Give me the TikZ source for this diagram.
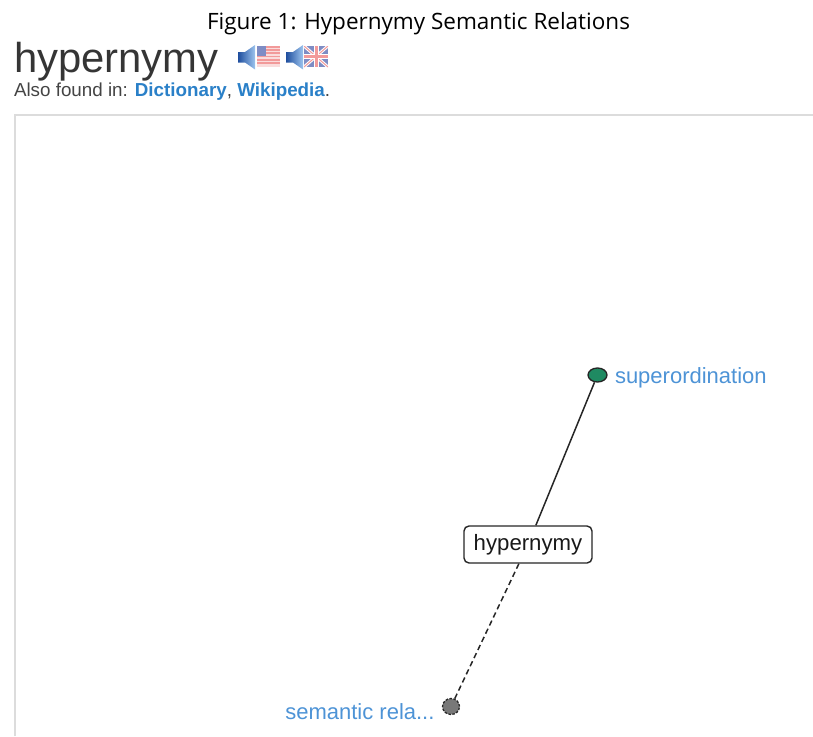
\documentclass[tikz,border=0pt]{standalone}
\usepackage{fontspec}
\setmainfont{Liberation Sans}
\newfontfamily\titlefont{Open Sans}
\usetikzlibrary{shapes.geometric}
\definecolor{headgray}{HTML}{353535}
\definecolor{textgray}{HTML}{444444}
\definecolor{linkblue}{HTML}{2A80C8}
\definecolor{labblue}{HTML}{4D93D6}
\definecolor{nodegreen}{HTML}{1F8A62}
\definecolor{nodegray}{HTML}{787878}
\definecolor{framegray}{HTML}{DCDCDC}
\definecolor{flagred}{HTML}{F29A9A}
\definecolor{flagblue}{HTML}{7E8CC4}
\definecolor{spkdark}{HTML}{1F4E9E}
\definecolor{spklight}{HTML}{9CC4EE}
\tikzset{
  txt/.style={inner sep=0pt, outer sep=0pt},
  lab/.style={txt, text=labblue, font=\fontsize{22}{26}\selectfont},
  supnode/.style={ellipse, draw=black!85, line width=1.3pt, fill=nodegreen, minimum width=19pt, minimum height=14pt, inner sep=0pt},
  semnode/.style={ellipse, draw=black!85, dashed, dash pattern=on 2.5pt off 1.5pt, line width=1.3pt, fill=nodegray, minimum width=17pt, minimum height=16pt, inner sep=0pt},
  wordbox/.style={draw=black!85, line width=1.4pt, rounded corners=5pt, fill=white, minimum width=128pt, minimum height=37pt, inner sep=0pt, text=black!90, font=\fontsize{22.2}{26}\selectfont},
  conn/.style={draw=black!85, line width=1.5pt},
  dashconn/.style={conn, dash pattern=on 5.5pt off 3.5pt},
  frameline/.style={draw=framegray, line width=2pt},
  spk/.style={left color=spkdark, right color=spklight, draw=none}
}
\begin{document}
\begin{tikzpicture}[x=1pt,y=-1pt]
\useasboundingbox (0,0) rectangle (813,736);
% title
\node[txt, anchor=base, font=\titlefont\fontsize{22.5}{27}\selectfont] (title) at (418.5,29.3) {Figure 1: Hypernymy Semantic Relations};
% heading
\node[txt, anchor=base west, text=headgray, font=\fontsize{41.8}{48}\selectfont] (head) at (14,72.3) {hypernymy};
% flags with speakers
\begin{scope}
  \fill[flagred!35] (257,46) rectangle (280,67);
  \foreach \i in {0,2,4,6,8,10}{\fill[flagred] (257,46+\i*1.615) rectangle (280,46+\i*1.615+1.615);}
  \fill[flagblue] (257,46) rectangle (266,56);
  \path[spk] (238,52) -- (245,52) -- (255,45) -- (255,69.5) -- (245,62.5) -- (238,62.5) -- cycle;
\end{scope}
\begin{scope}
  \clip (304,46) rectangle (328,67);
  \fill[flagblue] (304,46) rectangle (328,67);
  \draw[white, line width=3pt] (304,46) -- (328,67) (304,67) -- (328,46);
  \draw[flagred, line width=1pt] (304,46) -- (328,67) (304,67) -- (328,46);
  \draw[white, line width=5pt] (316,46) -- (316,67) (304,56.5) -- (328,56.5);
  \draw[flagred, line width=3pt] (316,46) -- (316,67) (304,56.5) -- (328,56.5);
\end{scope}
\path[spk] (286,52) -- (293,52) -- (303,45) -- (303,69.5) -- (293,62.5) -- (286,62.5) -- cycle;
% also found in
\node[txt, anchor=base west, text=textgray, font=\fontsize{18.8}{22}\selectfont] (also) at (14,96.5)
  {Also found in: \textcolor{linkblue}{\textbf{Dictionary}}, \textcolor{linkblue}{\textbf{Wikipedia}}.};
% frame
\draw[frameline] (15,736) -- (15,115) -- (813,115);
% graph
\node[supnode] (sup) at (597.5,375) {};
\node[semnode] (sem) at (451,706.5) {};
\node[wordbox] (hyp) at (528,544.5) {hypernymy};
\draw[conn] (sup) -- (hyp);
\draw[dashconn] (hyp) -- (sem);
\node[lab, anchor=base west] (supl) at (615,383.5) {superordination};
\node[lab, anchor=base east] (seml) at (434.5,719.5) {semantic rela...};
\end{tikzpicture}
\end{document}
